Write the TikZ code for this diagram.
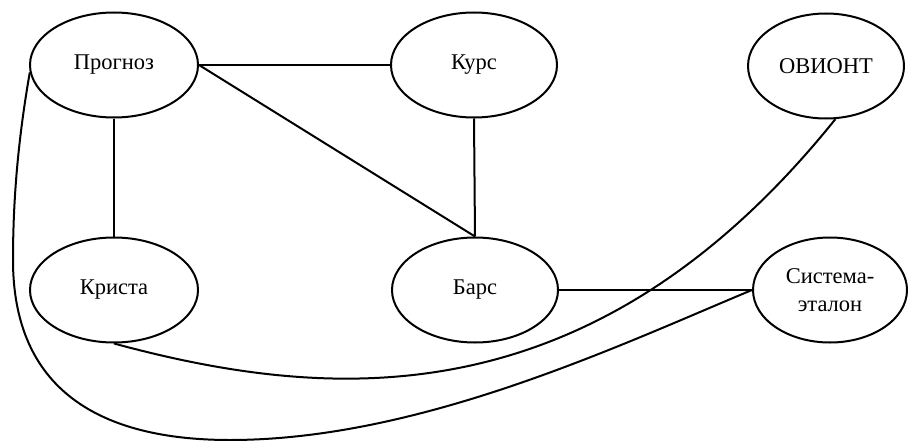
\documentclass[tikz,border=0pt]{standalone}
\usepackage{fontspec}
\setmainfont{Liberation Serif}
\usetikzlibrary{shapes.geometric}
\begin{document}
\begin{tikzpicture}[x=1pt,y=-1pt,line width=2pt,
  oval/.style={ellipse, draw, inner sep=0pt, minimum width=#1, minimum height=105pt,
    font=\fontsize{22.5}{28}\selectfont, align=center},
  link/.style={draw}]
\useasboundingbox (0,0) rectangle (909,441);
\node[oval=168pt] (prog) at (114,65) {\raisebox{-2pt}{Прогноз}};
\node[oval=166pt] (kurs) at (474,65) {\raisebox{-2pt}{Курс}};
\node[oval=156pt] (ovi) at (826,66) {\raisebox{-2pt}{ОВИОНТ}};
\node[oval=168pt] (krista) at (114,290) {\raisebox{-2pt}{Криста}};
\node[oval=166pt] (bars) at (475,290) {\raisebox{-2pt}{Барс}};
\node[oval=154pt] (sys) at (830,290) {Система-\\эталон};
\draw[link] (prog.east) -- (kurs.west);
\draw[link] (prog.east) -- (bars.north);
\draw[link] (kurs.south) -- (bars.north);
\draw[link] (prog.south) -- (krista.north);
\draw[link] (bars.east) -- (sys.west);
\draw[link] (krista.south) .. controls (330,402) and (592,422) .. (ovi.-80);
\draw[link] (prog.185) .. controls (18,140) and (13,200) .. (13,260)
  .. controls (13,390) and (100,440) .. (230,440)
  .. controls (420,440) and (620,345) .. (sys.west);
\end{tikzpicture}
\end{document}
